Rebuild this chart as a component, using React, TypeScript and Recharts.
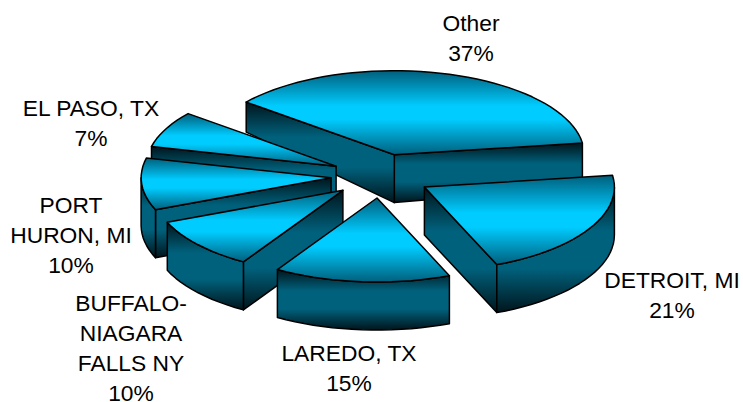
import { Pie, PieChart } from "recharts";

const names = ["Other", "EL PASO, TX", "PORT HURON, MI", "BUFFALO-NIAGARA FALLS NY", "LAREDO, TX", "DETROIT, MI"];
const shares = [37, 7, 10, 10, 15, 21];

// Wrapped label text, one row per line of the name.
const labelRows = [
  ["Other"],
  ["EL PASO, TX"],
  ["PORT", "HURON, MI"],
  ["BUFFALO-", "NIAGARA", "FALLS NY"],
  ["LAREDO, TX"],
  ["DETROIT, MI"],
];
// Centre x and first baseline for each label block.
const labelAnchors = [
  { x: 471, y: 31 },
  { x: 91, y: 116 },
  { x: 71, y: 213 },
  { x: 131, y: 311 },
  { x: 349, y: 361 },
  { x: 672, y: 288 },
];

const chartData = names.map((name, i) => ({ name, value: shares[i] }));

const TILT = 84 / 190; // vertical squash of the pie plane
const EXPLODE = 50; // how far each slice is pulled from the centre
const THICKNESS = 48;
const RAD = Math.PI / 180;

// Walls get shorter towards the back of the pie.
const depthAt = (y: number) => (y < 155 ? THICKNESS - 0.34 * (155 - y) : THICKNESS);

type Pt = [number, number];

const toPath = (pts: Pt[]) =>
  "M" + pts.map(([x, y]) => `${x.toFixed(1)},${y.toFixed(1)}`).join("L") + "Z";

const drop = ([x, y]: Pt): Pt => [x, y + depthAt(y)];

const Slice3D = (props: any) => {
  const { cx, cy, outerRadius: r, startAngle, endAngle } = props;
  const mid = ((startAngle + endAngle) / 2) * RAD;
  const ox = cx + EXPLODE * Math.cos(mid);
  const oy = cy - EXPLODE * TILT * Math.sin(mid);
  const rim = (deg: number): Pt => [
    ox + r * Math.cos(deg * RAD),
    oy - r * TILT * Math.sin(deg * RAD),
  ];
  const arc = (from: number, to: number) => {
    const steps = Math.max(2, Math.ceil((to - from) / 3));
    const pts: Pt[] = [];
    for (let i = 0; i <= steps; i++) pts.push(rim(from + ((to - from) * i) / steps));
    return pts;
  };
  const apex: Pt = [ox, oy];
  const radialWall = (deg: number) => {
    const edge = rim(deg);
    return toPath([apex, edge, drop(edge), drop(apex)]);
  };
  const walls: string[] = [];
  if (Math.cos(startAngle * RAD) > 0) walls.push(radialWall(startAngle));
  if (Math.cos(endAngle * RAD) < 0) walls.push(radialWall(endAngle));
  // the outer wall only shows on the front half of the rim
  const frontFrom = Math.max(startAngle, 180);
  const frontTo = Math.min(endAngle, 360);
  if (frontTo > frontFrom) {
    const top = arc(frontFrom, frontTo);
    walls.push(toPath([...top, ...top.map(drop).reverse()]));
  }
  return (
    <g stroke="#000" strokeWidth={1.5} strokeLinejoin="round">
      {walls.map((d, i) => (
        <path key={i} d={d} fill="url(#wallShade)" />
      ))}
      <path d={toPath([apex, ...arc(startAngle, endAngle)])} fill="url(#topShade)" />
    </g>
  );
};

const SliceLabel = (props: any) => {
  const { index } = props;
  const { x, y } = labelAnchors[index];
  const rows = [...labelRows[index], `${shares[index]}%`];
  return (
    <text
      x={x}
      y={y}
      textAnchor="middle"
      fontFamily="'Liberation Sans', Arial, sans-serif"
      fontSize={22.8}
      fill="#000"
      stroke="none"
    >
      {rows.map((row, i) => (
        <tspan key={i} x={x} dy={i === 0 ? 0 : 30}>
          {row}
        </tspan>
      ))}
    </text>
  );
};

export default function App() {
  return (
    <div style={{ position: "absolute", left: 0, top: 0, width: 743, height: 402, background: "#fff" }}>
      <PieChart width={743} height={402} margin={{ top: 0, right: 0, bottom: 0, left: 0 }}>
        <defs>
          <linearGradient id="topShade" x1="0" y1="0" x2="0" y2="1">
            <stop offset="0%" stopColor="#005f7c" />
            <stop offset="42%" stopColor="#00ccff" />
            <stop offset="58%" stopColor="#00ccff" />
            <stop offset="100%" stopColor="#005f7c" />
          </linearGradient>
          <linearGradient id="wallShade" x1="0" y1="0" x2="0" y2="1">
            <stop offset="0%" stopColor="#00151c" />
            <stop offset="35%" stopColor="#00617c" />
            <stop offset="65%" stopColor="#00617c" />
            <stop offset="100%" stopColor="#00151c" />
          </linearGradient>
        </defs>
        <Pie
          data={chartData}
          dataKey="value"
          nameKey="name"
          cx={381}
          cy={176}
          outerRadius={190}
          startAngle={8}
          endAngle={368}
          stroke="none"
          shape={Slice3D}
          label={SliceLabel}
          labelLine={false}
          isAnimationActive={false}
        />
      </PieChart>
    </div>
  );
}
